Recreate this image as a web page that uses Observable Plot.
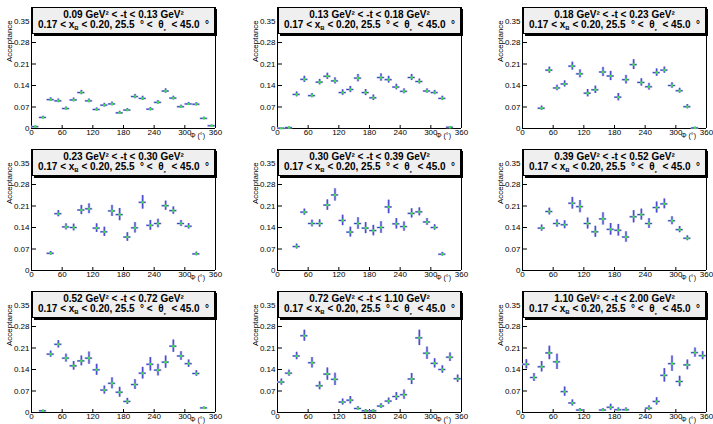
<!DOCTYPE html>
<html><head><meta charset="utf-8">
<script src="https://cdn.jsdelivr.net/npm/d3@7"></script>
<script src="https://cdn.jsdelivr.net/npm/@observablehq/plot@0.6"></script>
<style>
body{margin:0;background:#fff;}
#root{position:relative;width:713px;height:424px;font-family:"Liberation Sans",Arial,Helvetica,sans-serif;overflow:hidden;}
.panel{position:absolute;width:245px;height:142px;}
.panel svg{position:absolute;left:0;top:0;overflow:visible;}
.tbox{position:absolute;left:32px;top:7px;width:181px;height:25px;background:#efefef;border:1px solid #000;box-shadow:2px 2px 0 #000;font-weight:bold;font-size:10px;color:#000;}
.tl{position:absolute;left:0;width:100%;text-align:center;line-height:10px;white-space:nowrap;}
.ylab{position:absolute;left:5px;top:62px;transform:rotate(-90deg);transform-origin:0 0;font-size:8px;line-height:9px;white-space:nowrap;}
.xlab{position:absolute;left:190px;top:132px;font-size:7px;line-height:8px;white-space:nowrap;}
</style></head>
<body><div id="root"></div>
<script>
const phiCenters = [7.5,22.5,37.5,52.5,67.5,82.5,97.5,112.5,127.5,142.5,157.5,172.5,187.5,202.5,217.5,232.5,247.5,262.5,277.5,292.5,307.5,322.5,337.5,352.5];
const tLow  = ["0.09","0.13","0.18","0.23","0.30","0.39","0.52","0.72","1.10"];
const tHigh = ["0.13","0.18","0.23","0.30","0.39","0.52","0.72","1.10","2.00"];
const xTicks = [0,60,120,180,240,300,360];
const yTicks = [0,0.07,0.14,0.21,0.28,0.35];

const acc1 = [0.006,0.036,0.094,0.090,0.065,0.093,0.117,0.090,0.062,0.076,0.080,0.051,0.060,0.104,0.098,0.063,0.085,0.122,0.099,0.071,0.080,0.079,0.033,0.009];
const err1 = [0.002,0.004,0.006,0.006,0.005,0.006,0.007,0.006,0.005,0.006,0.006,0.005,0.005,0.007,0.007,0.005,0.006,0.007,0.006,0.005,0.005,0.005,0.004,0.002];
const acc2 = [0.001,0.003,0.111,0.160,0.107,0.151,0.170,0.155,0.117,0.127,0.164,0.117,0.100,0.166,0.159,0.135,0.121,0.166,0.153,0.122,0.117,0.098,0.004,null];
const err2 = [0.001,0.002,0.008,0.010,0.007,0.009,0.010,0.010,0.009,0.010,0.012,0.010,0.009,0.012,0.011,0.009,0.008,0.010,0.008,0.007,0.007,0.007,0.002,null];
const acc3 = [null,null,0.066,0.190,0.132,0.145,0.203,0.178,0.115,0.126,0.184,0.171,0.102,0.159,0.208,0.150,0.136,0.182,0.190,0.140,0.123,0.071,0.002,null];
const err3 = [null,null,0.007,0.010,0.009,0.010,0.013,0.013,0.012,0.012,0.015,0.015,0.012,0.014,0.016,0.012,0.011,0.012,0.010,0.009,0.008,0.007,0.002,null];
const acc4 = [null,null,0.056,0.185,0.142,0.140,0.197,0.201,0.138,0.126,0.194,0.182,0.109,0.139,0.222,0.147,0.153,0.211,0.195,0.153,0.144,0.054,null,null];
const err4 = [null,null,0.006,0.010,0.010,0.011,0.015,0.016,0.014,0.015,0.018,0.020,0.014,0.017,0.022,0.016,0.014,0.015,0.012,0.010,0.009,0.006,null,null];
const acc5 = [null,null,0.078,0.190,0.153,0.153,0.213,0.246,0.163,0.125,0.153,0.138,0.130,0.140,0.207,0.152,0.143,0.186,0.191,0.158,0.140,0.053,null,null];
const err5 = [null,null,0.008,0.010,0.011,0.012,0.017,0.020,0.017,0.016,0.019,0.018,0.017,0.019,0.022,0.017,0.015,0.015,0.013,0.011,0.009,0.006,null,null];
const acc6 = [null,null,0.138,0.192,0.153,0.149,0.219,0.208,0.153,0.126,0.168,0.134,0.131,0.109,0.175,0.182,0.153,0.205,0.217,0.162,0.133,0.105,null,null];
const err6 = [null,null,0.010,0.011,0.012,0.013,0.019,0.020,0.018,0.018,0.020,0.019,0.019,0.017,0.020,0.018,0.016,0.018,0.016,0.013,0.010,0.008,null,null];
const acc7 = [null,0.0055,0.190,0.222,0.177,0.152,0.168,0.177,0.139,0.073,0.095,0.066,0.036,0.091,0.128,0.157,0.138,0.164,0.216,0.184,0.159,0.127,0.015,null];
const err7 = [null,0.002,0.010,0.012,0.013,0.014,0.016,0.020,0.018,0.013,0.018,0.016,0.010,0.016,0.019,0.022,0.019,0.020,0.020,0.014,0.012,0.009,0.003,null];
const acc8 = [0.099,0.128,0.184,0.250,0.162,0.087,0.125,0.108,0.034,0.040,0.013,0.0055,0.0055,0.021,0.037,0.052,0.058,0.109,0.243,0.193,0.160,0.140,0.180,0.110];
const err8 = [0.010,0.010,0.012,0.018,0.017,0.013,0.020,0.020,0.010,0.012,0.006,0.004,0.004,0.008,0.010,0.013,0.015,0.018,0.025,0.020,0.015,0.012,0.014,0.012];
const acc9 = [0.157,0.114,0.149,0.194,0.165,0.068,0.031,0.008,null,null,0.008,0.017,0.009,0.009,null,null,0.014,0.036,0.121,0.159,0.101,0.155,0.195,0.185];
const err9 = [0.015,0.013,0.017,0.022,0.025,0.015,0.010,0.005,null,null,0.005,0.010,0.006,0.006,null,null,0.008,0.012,0.022,0.025,0.017,0.016,0.015,0.013];

const accs = [acc1,acc2,acc3,acc4,acc5,acc6,acc7,acc8,acc9];
const errs = [err1,err2,err3,err4,err5,err6,err7,err8,err9];

const W = 245, H = 142, ML = 31, MR = 30, MT = 7, MB = 14;
const colLeft = [0, 246, 491];
const rowTop = [0, 142, 284];
const binHalf = 7.5;
const lav = "#aeb0e6", blue = "#3a3acb", green = "#39e83a";

const root = document.getElementById("root");
for (let k = 0; k < 9; k++) {
  const r = Math.floor(k / 3), c = k % 3;
  const data = phiCenters.map((phi, i) => ({phi, v: accs[k][i], e: errs[k][i]})).filter(d => d.v != null);
  const fw = W - ML - MR, fh = H - MT - MB;
  const plot = Plot.plot({
    width: W, height: H, marginLeft: ML, marginRight: MR, marginTop: MT, marginBottom: MB,
    x: {domain: [0, 360], axis: null, label: null},
    y: {domain: [0, 0.394], axis: null, label: null},
    style: {fontFamily: "Liberation Sans, Arial, sans-serif", fontSize: "8px", background: "transparent", color: "#000"},
    marks: [
      Plot.ruleX([0, 360], {stroke: "#000", strokeWidth: 1}),
      Plot.ruleY([0], {stroke: "#000", strokeWidth: 1}),
      Plot.ruleY(yTicks, {stroke: "#000", insetRight: fw - 5}),
      Plot.ruleX(xTicks, {stroke: "#000", insetTop: fh - 3}),
      Plot.axisY(yTicks, {tickSize: 0, tickPadding: 2, fontSize: 8, label: null, tickFormat: d => d === 0 ? "0" : d.toFixed(2)}),
      Plot.axisX(xTicks, {tickSize: 0, tickPadding: 1, fontSize: 8, label: null, tickFormat: d => String(d)}),
      Plot.ruleX(data, {x: "phi", y1: d => d.v - d.e, y2: d => d.v + d.e, stroke: lav, strokeWidth: 2.5}),
      Plot.ruleY(data, {y: "v", x1: d => d.phi - binHalf, x2: d => d.phi + binHalf, stroke: lav, strokeWidth: 2}),
      Plot.ruleX(data, {x: "phi", y1: d => d.v - d.e, y2: d => d.v + d.e, stroke: blue, strokeWidth: 1}),
      Plot.ruleY(data, {y: "v", x1: d => d.phi - binHalf + 1, x2: d => d.phi + binHalf - 1, stroke: blue, strokeWidth: 1}),
      Plot.dot(data, {x: "phi", y: "v", r: 1.3, fill: green, stroke: null})
    ]
  });
  const panel = document.createElement("div");
  panel.className = "panel";
  panel.style.left = colLeft[c] + "px";
  panel.style.top = rowTop[r] + "px";
  panel.appendChild(plot);
  const box = document.createElement("div");
  box.className = "tbox";
  box.innerHTML = `<div class="tl" style="top:2px">${tLow[k]} GeV² &lt; -t &lt; ${tHigh[k]} GeV²</div>` +
    `<div class="tl" style="top:12px">0.17 &lt; x<sub style="font-size:6px;vertical-align:-2px">B</sub> &lt; 0.20, 25.5 &nbsp;° &lt; &nbsp;θ<sub style="font-size:4px;vertical-align:-3px">e</sub> &nbsp;&lt; 45.0 &nbsp;°</div>`;
  panel.appendChild(box);
  const yl = document.createElement("div");
  yl.className = "ylab"; yl.textContent = "Acceptance";
  panel.appendChild(yl);
  const xl = document.createElement("div");
  xl.className = "xlab"; xl.textContent = "Φ (°)";
  panel.appendChild(xl);
  root.appendChild(panel);
}
</script></body></html>
